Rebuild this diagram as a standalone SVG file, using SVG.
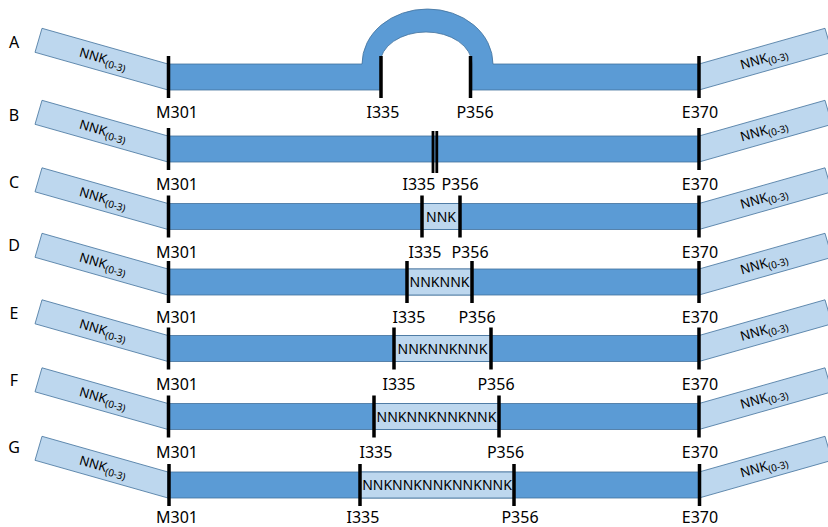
<svg xmlns="http://www.w3.org/2000/svg" width="828" height="527" viewBox="0 0 828 527">
<style>
.bar{fill:#5B9BD5;stroke:#41719C;stroke-width:0.8}
.tab{fill:#BDD7EE;stroke:#41719C;stroke-width:0.8}
.ins{fill:#BDD7EE;stroke:#41719C;stroke-width:0.8}
.mk{fill:#000}
text{font-family:"Noto Sans","Open Sans","Liberation Sans",sans-serif;fill:#000}
.lbl{font-size:16px;text-anchor:middle}
.row{font-size:16px;text-anchor:middle}
.tt{font-size:13px;text-anchor:middle}
.sub{font-size:10px}
.it{font-size:14px;text-anchor:middle}
</style>
<defs>
<polygon id="tabL" class="tab" points="42,-48.7 168,-13 168,13 35,-24.7"/>
<polygon id="tabR" class="tab" points="825,-48.7 699,-13 699,13 832,-24.7"/>
<rect id="mk" class="mk" x="-1.75" y="-21" width="3.5" height="42"/>
</defs>

<g id="row-A" transform="translate(0,77)">
<use href="#tabL"/><use href="#tabR"/>
<path class="bar" d="M168,-13 H362 A65.5,55 0 0 1 493,-13 H699 V13 H472 V-13 A46,32 0 0 0 380,-13 V13 H168 Z"/>
<text class="tt" transform="translate(103,-18) rotate(15.8)" y="4">NNK<tspan class="sub" dy="3">(0-3)</tspan></text>
<text class="tt" transform="translate(764,-18) rotate(-15.8)" y="4">NNK<tspan class="sub" dy="3">(0-3)</tspan></text>
<use href="#mk" x="168.5"/><use href="#mk" x="381"/><use href="#mk" x="470.5"/><use href="#mk" x="699"/>
<text class="row" x="14" y="-29">A</text>
<text class="lbl" x="177" y="41">M301</text>
<text class="lbl" x="383" y="41">I335</text>
<text class="lbl" x="475" y="41">P356</text>
<text class="lbl" x="700" y="41">E370</text>
</g>

<g id="row-B" transform="translate(0,149)">
<use href="#tabL"/><use href="#tabR"/>
<rect class="bar" x="168" y="-13" width="531" height="26"/>
<text class="tt" transform="translate(103,-18) rotate(15.8)" y="4">NNK<tspan class="sub" dy="3">(0-3)</tspan></text>
<text class="tt" transform="translate(764,-18) rotate(-15.8)" y="4">NNK<tspan class="sub" dy="3">(0-3)</tspan></text>
<use href="#mk" x="168.5"/><use href="#mk" x="699"/>
<rect class="mk" x="431.6" y="-18" width="2.8" height="42"/>
<rect class="mk" x="435.4" y="-18" width="2.8" height="42"/>
<text class="row" x="14" y="-28">B</text>
<text class="lbl" x="177" y="41">M301</text>
<text class="lbl" x="419" y="41">I335</text>
<text class="lbl" x="460" y="41">P356</text>
<text class="lbl" x="700" y="41">E370</text>
</g>

<g id="row-C" transform="translate(0,216.5)">
<use href="#tabL"/><use href="#tabR"/>
<rect class="bar" x="168" y="-13" width="531" height="26"/>
<rect class="ins" x="422" y="-13" width="38" height="26"/>
<text class="it" x="441" y="5">NNK</text>
<text class="tt" transform="translate(103,-18) rotate(15.8)" y="4">NNK<tspan class="sub" dy="3">(0-3)</tspan></text>
<text class="tt" transform="translate(764,-18) rotate(-15.8)" y="4">NNK<tspan class="sub" dy="3">(0-3)</tspan></text>
<use href="#mk" x="168.5"/><use href="#mk" x="422"/><use href="#mk" x="460"/><use href="#mk" x="699"/>
<text class="row" x="14" y="-28.5">C</text>
<text class="lbl" x="177" y="41">M301</text>
<text class="lbl" x="425" y="41">I335</text>
<text class="lbl" x="470" y="41">P356</text>
<text class="lbl" x="700" y="41">E370</text>
</g>

<g id="row-D" transform="translate(0,282)">
<use href="#tabL"/><use href="#tabR"/>
<rect class="bar" x="168" y="-13" width="531" height="26"/>
<rect class="ins" x="407" y="-13" width="65" height="26"/>
<text class="it" x="439.5" y="5">NNKNNK</text>
<text class="tt" transform="translate(103,-18) rotate(15.8)" y="4">NNK<tspan class="sub" dy="3">(0-3)</tspan></text>
<text class="tt" transform="translate(764,-18) rotate(-15.8)" y="4">NNK<tspan class="sub" dy="3">(0-3)</tspan></text>
<use href="#mk" x="168.5"/><use href="#mk" x="407"/><use href="#mk" x="472"/><use href="#mk" x="699"/>
<text class="row" x="14" y="-31">D</text>
<text class="lbl" x="177" y="41">M301</text>
<text class="lbl" x="409" y="41">I335</text>
<text class="lbl" x="477" y="41">P356</text>
<text class="lbl" x="700" y="41">E370</text>
</g>

<g id="row-E" transform="translate(0,348.5)">
<use href="#tabL"/><use href="#tabR"/>
<rect class="bar" x="168" y="-13" width="531" height="26"/>
<rect class="ins" x="394" y="-13" width="97" height="26"/>
<text class="it" x="442.5" y="5">NNKNNKNNK</text>
<text class="tt" transform="translate(103,-18) rotate(15.8)" y="4">NNK<tspan class="sub" dy="3">(0-3)</tspan></text>
<text class="tt" transform="translate(764,-18) rotate(-15.8)" y="4">NNK<tspan class="sub" dy="3">(0-3)</tspan></text>
<use href="#mk" x="168.5"/><use href="#mk" x="394"/><use href="#mk" x="491"/><use href="#mk" x="699"/>
<text class="row" x="14" y="-29.5">E</text>
<text class="lbl" x="177" y="41">M301</text>
<text class="lbl" x="399" y="41">I335</text>
<text class="lbl" x="496" y="41">P356</text>
<text class="lbl" x="700" y="41">E370</text>
</g>

<g id="row-F" transform="translate(0,416.5)">
<use href="#tabL"/><use href="#tabR"/>
<rect class="bar" x="168" y="-13" width="531" height="26"/>
<rect class="ins" x="374" y="-13" width="125" height="26"/>
<text class="it" x="436.5" y="5">NNKNNKNNKNNK</text>
<text class="tt" transform="translate(103,-18) rotate(15.8)" y="4">NNK<tspan class="sub" dy="3">(0-3)</tspan></text>
<text class="tt" transform="translate(764,-18) rotate(-15.8)" y="4">NNK<tspan class="sub" dy="3">(0-3)</tspan></text>
<use href="#mk" x="168.5"/><use href="#mk" x="374"/><use href="#mk" x="499"/><use href="#mk" x="699"/>
<text class="row" x="14" y="-30.5">F</text>
<text class="lbl" x="177" y="41">M301</text>
<text class="lbl" x="376" y="41">I335</text>
<text class="lbl" x="505.5" y="41">P356</text>
<text class="lbl" x="700" y="41">E370</text>
</g>

<g id="row-G" transform="translate(0,485)">
<use href="#tabL"/><use href="#tabR"/>
<rect class="bar" x="168" y="-13" width="531" height="26"/>
<rect class="ins" x="360" y="-13" width="154" height="26"/>
<text class="it" x="437" y="5">NNKNNKNNKNNKNNK</text>
<text class="tt" transform="translate(103,-18) rotate(15.8)" y="4">NNK<tspan class="sub" dy="3">(0-3)</tspan></text>
<text class="tt" transform="translate(764,-18) rotate(-15.8)" y="4">NNK<tspan class="sub" dy="3">(0-3)</tspan></text>
<use href="#mk" x="169"/><use href="#mk" x="360"/><use href="#mk" x="514"/><use href="#mk" x="699.5"/>
<text class="row" x="14" y="-32">G</text>
<text class="lbl" x="177" y="38">M301</text>
<text class="lbl" x="363" y="38">I335</text>
<text class="lbl" x="520" y="38">P356</text>
<text class="lbl" x="700" y="38">E370</text>
</g>
<g id="connectors"/>
</svg>
